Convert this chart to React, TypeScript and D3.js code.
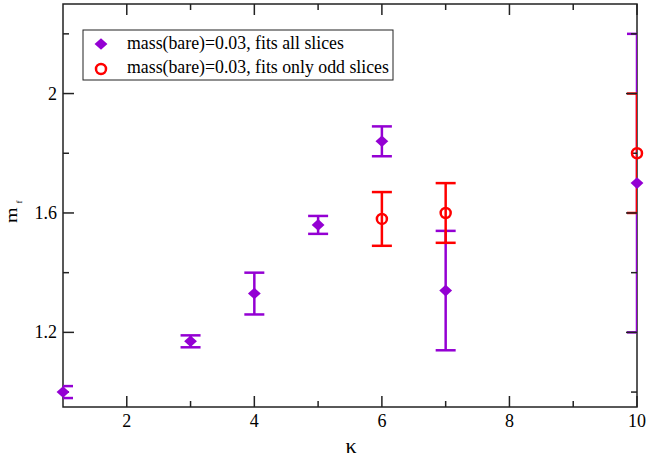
import { useEffect, useRef } from "react";
import * as d3 from "d3";

// kappa values and fitted masses with errors
const kappaAll = [1, 3, 4, 5, 6, 7, 10];
const mfAll = [1.0, 1.17, 1.33, 1.56, 1.84, 1.34, 1.7];
const errAll = [0.02, 0.02, 0.07, 0.03, 0.05, 0.2, 0.5];

const kappaOdd = [6, 7, 10];
const mfOdd = [1.58, 1.6, 1.8];
const errOdd = [0.09, 0.1, 0.2];

const xMajor = [2, 4, 6, 8, 10];
const xMinor = [3, 5, 7, 9];
const yMajor = [1.2, 1.6, 2.0];
const yMinor = [1.0, 1.4, 1.8, 2.2];

const legendLabels = [
  "mass(bare)=0.03, fits all slices",
  "mass(bare)=0.03, fits only odd slices",
];

const PURPLE = "#9400d3";
const RED = "#ff0000";
const FONT = "Liberation Serif, Times New Roman, Times, DejaVu Serif, serif";

export default function App() {
  const ref = useRef<SVGSVGElement | null>(null);

  useEffect(() => {
    document.body.style.margin = "0";
    if (!ref.current) return;
    const svg = d3.select(ref.current);
    svg.selectAll("*").remove();

    const left = 63, right = 637, top = 4, bottom = 407;
    const x = d3.scaleLinear().domain([1, 10]).range([left, right]);
    const y = d3.scaleLinear().domain([0.95, 2.3]).range([bottom, top]);

    svg
      .append("defs")
      .append("clipPath")
      .attr("id", "plotclip")
      .append("rect")
      .attr("x", left)
      .attr("y", top)
      .attr("width", right - left)
      .attr("height", bottom - top);

    // frame
    svg
      .append("rect")
      .attr("x", left)
      .attr("y", top)
      .attr("width", right - left)
      .attr("height", bottom - top)
      .attr("fill", "none")
      .attr("stroke", "#222")
      .attr("stroke-width", 1.5);

    // error bars
    const drawErr = (xs: number[], ys: number[], es: number[], color: string) => {
      const g = svg.append("g").attr("clip-path", "url(#plotclip)")
        .attr("stroke", color).attr("stroke-width", 2.5).attr("fill", "none");
      xs.forEach((k, i) => {
        const cx = x(k);
        const y0 = y(ys[i] - es[i]);
        const y1 = y(ys[i] + es[i]);
        g.append("line").attr("x1", cx).attr("x2", cx).attr("y1", y0).attr("y2", y1);
        g.append("line").attr("x1", cx - 10).attr("x2", cx + 10).attr("y1", y0).attr("y2", y0);
        g.append("line").attr("x1", cx - 10).attr("x2", cx + 10).attr("y1", y1).attr("y2", y1);
      });
    };
    drawErr(kappaAll, mfAll, errAll, PURPLE);
    drawErr(kappaOdd, mfOdd, errOdd, RED);

    // ticks on all four sides
    const ticks = svg.append("g").attr("stroke", "#222").attr("stroke-width", 1.5);
    const tick = (vals: number[], len: number) => {
      vals.forEach((v) => {
        ticks.append("line").attr("x1", x(v)).attr("x2", x(v)).attr("y1", bottom).attr("y2", bottom - len);
        ticks.append("line").attr("x1", x(v)).attr("x2", x(v)).attr("y1", top).attr("y2", top + len);
      });
    };
    const ytick = (vals: number[], len: number) => {
      vals.forEach((v) => {
        ticks.append("line").attr("x1", left).attr("x2", left + len).attr("y1", y(v)).attr("y2", y(v));
        ticks.append("line").attr("x1", right).attr("x2", right - len).attr("y1", y(v)).attr("y2", y(v));
      });
    };
    tick(xMajor, 11);
    tick(xMinor, 6);
    ytick(yMajor, 11);
    ytick(yMinor, 6);

    // markers
    const diamond = d3.symbol().type(d3.symbolDiamond2).size(95);
    svg
      .append("g")
      .selectAll("path")
      .data(kappaAll)
      .join("path")
      .attr("d", diamond)
      .attr("transform", (k, i) => `translate(${x(k)},${y(mfAll[i])}) scale(1.05,0.95)`)
      .attr("fill", PURPLE);

    svg
      .append("g")
      .selectAll("circle")
      .data(kappaOdd)
      .join("circle")
      .attr("cx", (k) => x(k))
      .attr("cy", (_, i) => y(mfOdd[i]))
      .attr("r", 5)
      .attr("fill", "none")
      .attr("stroke", RED)
      .attr("stroke-width", 2.5);

    // tick labels
    const labels = svg.append("g").style("font-family", FONT).attr("font-size", 18).attr("fill", "#000");
    xMajor.forEach((v) => {
      labels.append("text").attr("x", x(v)).attr("y", bottom + 20).attr("text-anchor", "middle").text(String(v));
    });
    yMajor.forEach((v) => {
      labels.append("text").attr("x", left - 6).attr("y", y(v) + 6).attr("text-anchor", "end")
        .text(v === 2 ? "2" : v.toFixed(1));
    });

    // axis titles
    svg.append("text").attr("x", (left + right) / 2 + 1).attr("y", 453).attr("text-anchor", "middle")
      .style("font-family", FONT).attr("font-size", 22).text("κ");

    const yt = svg.append("text")
      .attr("transform", `translate(16.5,223) rotate(-90) scale(1,0.8)`)
      .style("font-family", FONT)
      .attr("font-size", 20);
    yt.append("tspan").text("m");
    yt.append("tspan").attr("font-size", 9).attr("dx", 4).attr("dy", 7).text("f");

    // legend
    const lg = svg.append("g");
    lg.append("rect").attr("x", 83).attr("y", 30).attr("width", 310).attr("height", 50)
      .attr("fill", "#fff").attr("stroke", "#222").attr("stroke-width", 1);
    lg.append("path").attr("d", diamond).attr("transform", "translate(101,44) scale(1.05,0.95)").attr("fill", PURPLE);
    lg.append("circle").attr("cx", 101).attr("cy", 69).attr("r", 5)
      .attr("fill", "none").attr("stroke", RED).attr("stroke-width", 2.5);
    legendLabels.forEach((t, i) => {
      lg.append("text").attr("x", 127).attr("y", 48.5 + i * 24).style("font-family", FONT)
        .attr("font-size", 17.8).text(t);
    });
  }, []);

  return <svg ref={ref} width={647} height={462} style={{ display: "block", background: "#fff" }} />;
}
